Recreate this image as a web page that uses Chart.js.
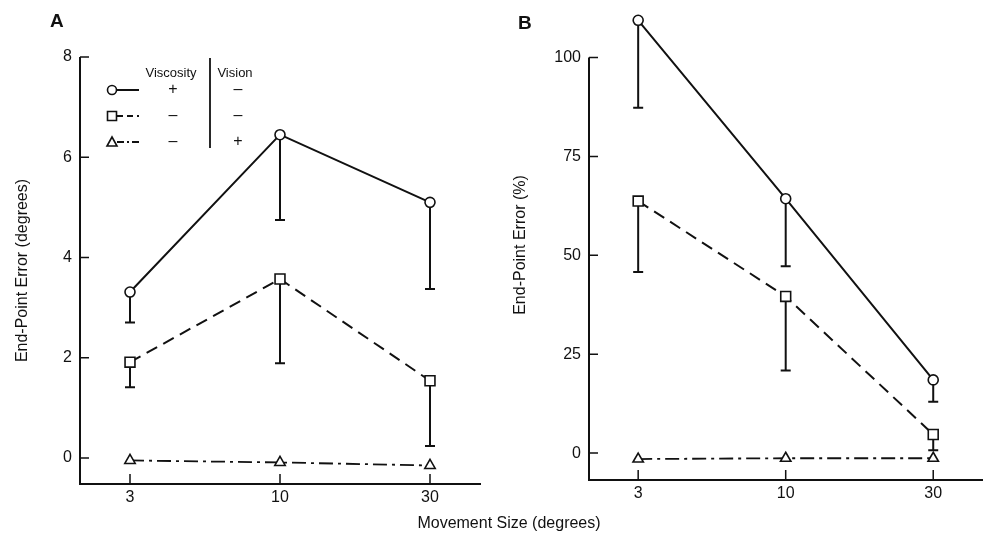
<!DOCTYPE html>
<html>
<head>
<meta charset="utf-8">
<script src="https://cdn.jsdelivr.net/npm/chart.js@4.4.1/dist/chart.umd.min.js"></script>
<style>
    body { margin: 0; background: #fff; width: 991px; height: 535px; position: relative; overflow: hidden; font-family: "Liberation Sans", Arial, sans-serif; color: #111; }
    #wrapA { position: absolute; left: 0; top: 0; width: 490px; height: 535px; }
    #wrapB { position: absolute; left: 490px; top: 0; width: 501px; height: 535px; }
    .panel { position: absolute; font-weight: bold; font-size: 19px; line-height: 1; }
    #xTitle { position: absolute; left: 359px; width: 300px; top: 515px; text-align: center; font-size: 16px; line-height: 1; }
</style>
</head>
<body>
<div id="wrapA"><canvas id="chartA" width="490" height="535"></canvas></div>
<div id="wrapB"><canvas id="chartB" width="501" height="535"></canvas></div>
<div class="panel" style="left:50px; top:11px;">A</div>
<div class="panel" style="left:518px; top:13px;">B</div>
<div id="xTitle">Movement Size (degrees)</div>
<script>
// movement sizes (x categories, equally spaced)
const sizes = ['3', '10', '30']

// panel A: end-point error in degrees
const viscA = [3.31, 6.45, 5.10]
const viscALow = [2.70, 4.75, 3.37]
const noVisionA = [1.91, 3.57, 1.54]
const noVisionALow = [1.41, 1.89, 0.24]
const visionA = [-0.05, -0.09, -0.15]
const ticksA = [0, 2, 4, 6, 8]

// panel B: end-point error in percent
const viscB = [109.4, 64.3, 18.5]
const viscBLow = [87.3, 47.2, 13.0]
const noVisionB = [63.7, 39.6, 4.7]
const noVisionBLow = [45.8, 20.9, 0.7]
const visionB = [-1.5, -1.3, -1.3]
const ticksB = [0, 25, 50, 75, 100]

// legend table
const legendHeads = ['Viscosity', 'Vision']
const viscositySigns = ['+', '–', '–']
const visionSigns = ['–', '–', '+']

const INK = '#111'
const FONT = '"Liberation Sans", Arial, sans-serif'

function toPoints(values) {
    return values.map((v, i) => ({x: i, y: v}))
}

function makeDatasets(visc, viscLow, noVis, noVisLow, vision) {
    return [
        {
            label: 'Viscosity +, Vision -',
            data: toPoints(visc),
            low: viscLow,
            borderColor: INK,
            borderWidth: 2,
            pointStyle: 'circle',
            pointRadius: 5,
        },
        {
            label: 'Viscosity -, Vision -',
            data: toPoints(noVis),
            low: noVisLow,
            borderColor: INK,
            borderWidth: 2,
            borderDash: [12, 7],
            pointStyle: 'rect',
            pointRadius: 7,
        },
        {
            label: 'Viscosity -, Vision +',
            data: toPoints(vision),
            borderColor: INK,
            borderWidth: 1.8,
            borderDash: [14, 5, 3, 5],
            pointStyle: 'triangle',
            pointRadius: 6,
        },
    ].map(ds => Object.assign(ds, {
        backgroundColor: '#fff',
        pointBackgroundColor: '#fff',
        pointBorderColor: INK,
        pointBorderWidth: 1.6,
        tension: 0,
        clip: false,
    }))
}

const errorBars = {
    id: 'errorBars',
    beforeDatasetsDraw(chart) {
        const {ctx, scales: {x, y}} = chart
        ctx.save()
        ctx.strokeStyle = INK
        ctx.lineWidth = 2
        chart.data.datasets.forEach(ds => {
            if (!ds.low) return
            ds.data.forEach((p, i) => {
                const px = x.getPixelForValue(p.x)
                const top = y.getPixelForValue(p.y)
                const bot = y.getPixelForValue(ds.low[i])
                ctx.beginPath()
                ctx.moveTo(px, top)
                ctx.lineTo(px, bot)
                ctx.moveTo(px - 5, bot)
                ctx.lineTo(px + 5, bot)
                ctx.stroke()
            })
        })
        ctx.restore()
    }
}

// y axis line runs only up to the top tick; tick marks point into the plot
const axisAndTicks = {
    id: 'axisAndTicks',
    afterDraw(chart) {
        const {ctx, chartArea, scales: {x, y}} = chart
        const topTick = y.ticks[y.ticks.length - 1].value
        ctx.save()
        ctx.strokeStyle = INK
        ctx.lineWidth = 2
        ctx.beginPath()
        ctx.moveTo(chartArea.left, y.getPixelForValue(topTick))
        ctx.lineTo(chartArea.left, chartArea.bottom)
        ctx.stroke()

        ctx.lineWidth = 1.5
        ctx.beginPath()
        y.ticks.forEach(t => {
            const py = y.getPixelForValue(t.value)
            ctx.moveTo(chartArea.left, py)
            ctx.lineTo(chartArea.left + 9, py)
        })
        x.ticks.forEach(t => {
            const px = x.getPixelForValue(t.value)
            ctx.moveTo(px, chartArea.bottom)
            ctx.lineTo(px, chartArea.bottom - 10)
        })
        ctx.stroke()
        ctx.restore()
    }
}

const legendTable = {
    id: 'legendTable',
    afterDraw(chart) {
        const ctx = chart.ctx
        const rows = [90, 116, 142]
        ctx.save()
        ctx.fillStyle = INK
        ctx.strokeStyle = INK
        ctx.textAlign = 'center'
        ctx.textBaseline = 'middle'
        ctx.font = '13px ' + FONT
        ctx.fillText(legendHeads[0], 171, 73)
        ctx.fillText(legendHeads[1], 235, 73)

        ctx.lineWidth = 1.8
        ctx.beginPath()
        ctx.moveTo(210, 58)
        ctx.lineTo(210, 148)
        ctx.stroke()

        const dashes = [[], [6, 4], [7, 3, 2, 3]]
        rows.forEach((ry, i) => {
            ctx.lineWidth = 2
            ctx.setLineDash(dashes[i])
            ctx.beginPath()
            ctx.moveTo(117, ry)
            ctx.lineTo(139, ry)
            ctx.stroke()
            ctx.setLineDash([])
            ctx.lineWidth = 1.6
            ctx.fillStyle = '#fff'
            ctx.beginPath()
            if (i === 0) {
                ctx.arc(112, ry, 4.5, 0, Math.PI * 2)
            } else if (i === 1) {
                ctx.rect(107.5, ry - 4.5, 9, 9)
            } else {
                ctx.moveTo(112, ry - 5)
                ctx.lineTo(117, ry + 4)
                ctx.lineTo(107, ry + 4)
                ctx.closePath()
            }
            ctx.fill()
            ctx.stroke()
            ctx.fillStyle = INK
            ctx.font = '16px ' + FONT
            ctx.fillText(viscositySigns[i], 173, ry)
            ctx.fillText(visionSigns[i], 238, ry)
        })
        ctx.restore()
    }
}

function makeOptions(cfg) {
    return {
        responsive: false,
        animation: false,
        layout: {padding: {top: cfg.top, right: cfg.right, left: 0, bottom: 0}},
        plugins: {legend: {display: false}, tooltip: {enabled: false}},
        scales: {
            x: {
                type: 'linear',
                min: -1 / 3,
                max: 7 / 3,
                afterBuildTicks: s => { s.ticks = sizes.map((_, i) => ({value: i})) },
                afterFit: s => { s.height = cfg.xHeight },
                ticks: {
                    callback: v => sizes[v],
                    color: INK,
                    padding: 4,
                    font: {family: FONT, size: 16},
                },
                grid: {display: false, drawTicks: false},
                border: {display: true, color: INK, width: 2},
            },
            y: {
                min: cfg.min,
                max: cfg.max,
                afterBuildTicks: s => { s.ticks = cfg.ticks.map(v => ({value: v})) },
                afterFit: s => {
                    s.width = cfg.yWidth
                    s.paddingTop = 0
                    s.paddingBottom = 0
                },
                ticks: {
                    color: INK,
                    padding: 8,
                    font: {family: FONT, size: 16},
                },
                grid: {display: false, drawTicks: false},
                border: {display: false},
                title: {
                    display: true,
                    text: cfg.title,
                    color: INK,
                    padding: {top: cfg.titlePad, bottom: 0},
                    font: {family: FONT, size: 16},
                },
            },
        },
    }
}

new Chart(document.getElementById('chartA'), {
    type: 'line',
    data: {datasets: makeDatasets(viscA, viscALow, noVisionA, noVisionALow, visionA)},
    options: makeOptions({
        top: 57, right: 10, xHeight: 51, yWidth: 80,
        min: -0.52, max: 8, ticks: ticksA,
        title: 'End-Point Error (degrees)', titlePad: 13,
    }),
    plugins: [errorBars, axisAndTicks, legendTable],
})

new Chart(document.getElementById('chartB'), {
    type: 'line',
    data: {datasets: makeDatasets(viscB, viscBLow, noVisionB, noVisionBLow, visionB)},
    options: makeOptions({
        top: 10, right: 8, xHeight: 55, yWidth: 99,
        min: -6.8, max: 112, ticks: ticksB,
        title: 'End-Point Error (%)', titlePad: 21,
    }),
    plugins: [errorBars, axisAndTicks],
})
</script>
</body>
</html>
